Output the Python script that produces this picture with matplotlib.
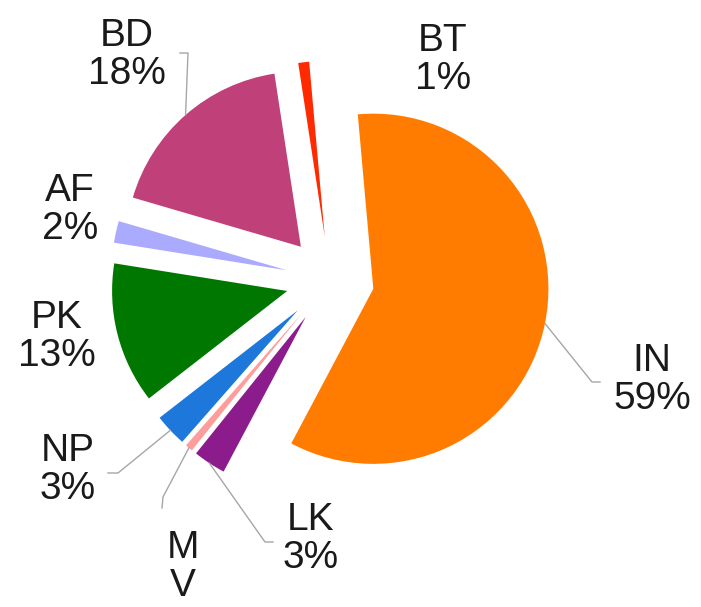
import numpy as np
import matplotlib
matplotlib.use("Agg")
import matplotlib.pyplot as plt

# slices, clockwise from the top
codes = ["BT", "IN", "LK", "MV", "NP", "PK", "AF", "BD"]
shares = [1, 59, 3, 0.7, 3, 13, 2, 18]
label_texts = ["BT\n1%", "IN\n59%", "LK\n3%", "M\nV", "NP\n3%", "PK\n13%", "AF\n2%", "BD\n18%"]
colors = ["#FF2A00", "#FF7C00", "#8C1C8C", "#FF9C9C", "#1E78DC", "#007800", "#AAAAFF", "#C0407A"]

# layout in pixels of the 701x607 image
W, H = 701, 607
CX, CY, R = 330, 280, 170

label_pos = {
    "BT": (443, 60), "IN": (652, 380), "LK": (311, 539), "MV": (183, 567),
    "NP": (68, 470), "PK": (57, 337), "AF": (70, 210), "BD": (127, 55),
}
leaders = {
    "IN": [(592, 382), (600, 382)],
    "BD": [(188, 53), (180, 53)],
    "LK": [(265, 542), (273, 542)],
    "MV": [(163, 497), (162, 508)],
    "NP": [(118, 473), (108, 473)],
}


def to_data(p):
    return ((p[0] - CX) / R, (CY - p[1]) / R)


def main():
    fig = plt.figure(figsize=(W / 100, H / 100), dpi=100)
    ax = fig.add_axes([0, 0, 1, 1])
    explode = [0.26] * len(shares)
    wedges, _ = ax.pie(shares, colors=colors, explode=explode, startangle=98.7,
                       counterclock=False, radius=1.03,
                       wedgeprops=dict(linewidth=0))
    ax.set_xlim(-CX / R, (W - CX) / R)
    ax.set_ylim(-(H - CY) / R, CY / R)
    ax.set_aspect("equal")
    ax.axis("off")

    for code, w, txt in zip(codes, wedges, label_texts):
        x, y = to_data(label_pos[code])
        ax.text(x, y, txt, ha="center", va="center", fontsize=28,
                family="Liberation Sans", color="#1a1a1a", linespacing=1.05)
        if code in leaders:
            mid = np.deg2rad((w.theta1 + w.theta2) / 2)
            cx, cy = w.center
            pts = [(cx + w.r * np.cos(mid), cy + w.r * np.sin(mid))]
            pts += [to_data(p) for p in leaders[code]]
            xs, ys = zip(*pts)
            ax.plot(xs, ys, color="#A6A6A6", lw=1.0)

    fig.savefig("out.png", dpi=100)


if __name__ == "__main__":
    main()
